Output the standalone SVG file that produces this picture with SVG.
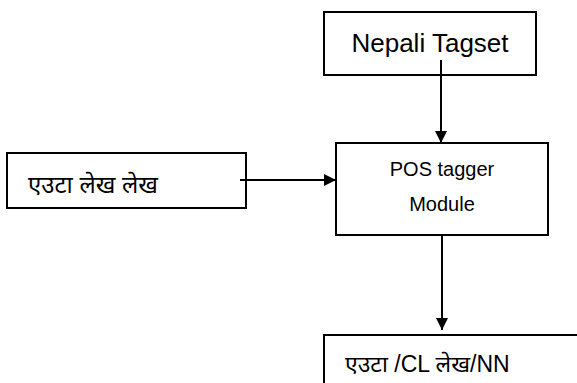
<svg xmlns="http://www.w3.org/2000/svg" width="577" height="383" viewBox="0 0 577 383">
<style>
.box{fill:#fff;stroke:#000;stroke-width:2}
.t{font-family:"Liberation Sans","Noto Sans",sans-serif;fill:#000}
.c{stroke:#000;stroke-width:2;fill:none}
</style>
<defs>
<marker id="ah" viewBox="0 0 12 12" markerWidth="12" markerHeight="12" refX="12" refY="6" orient="auto" markerUnits="userSpaceOnUse">
<path d="M0,0 L12,6 L0,12 Z" fill="#000"/>
</marker>
</defs>
<rect width="577" height="383" fill="#fff"/>
<g id="tagset">
<rect class="box" x="324" y="12" width="212" height="63"/>
<text class="t" x="430" y="52" font-size="26" text-anchor="middle">Nepali Tagset</text>
</g>
<g id="input">
<rect class="box" x="7" y="153" width="239" height="55"/>
<text class="t" x="28" y="193" font-size="24">एउटा लेख लेख</text>
</g>
<g id="tagger">
<rect class="box" x="336" y="143" width="212" height="92"/>
<text class="t" x="442" y="176" font-size="20" text-anchor="middle">POS tagger</text>
<text class="t" x="442" y="211" font-size="20" text-anchor="middle">Module</text>
</g>
<g id="output">
<rect class="box" x="324" y="335" width="260" height="60"/>
<text class="t" x="345" y="372" font-size="23">एउटा /CL लेख/NN</text>
</g>
<g id="connectors">
<line class="c" x1="441" y1="60" x2="441" y2="143" marker-end="url(#ah)"/>
<line class="c" x1="240" y1="180" x2="336" y2="180" marker-end="url(#ah)"/>
<line class="c" x1="442" y1="235" x2="442" y2="330" marker-end="url(#ah)"/>
</g>
</svg>
